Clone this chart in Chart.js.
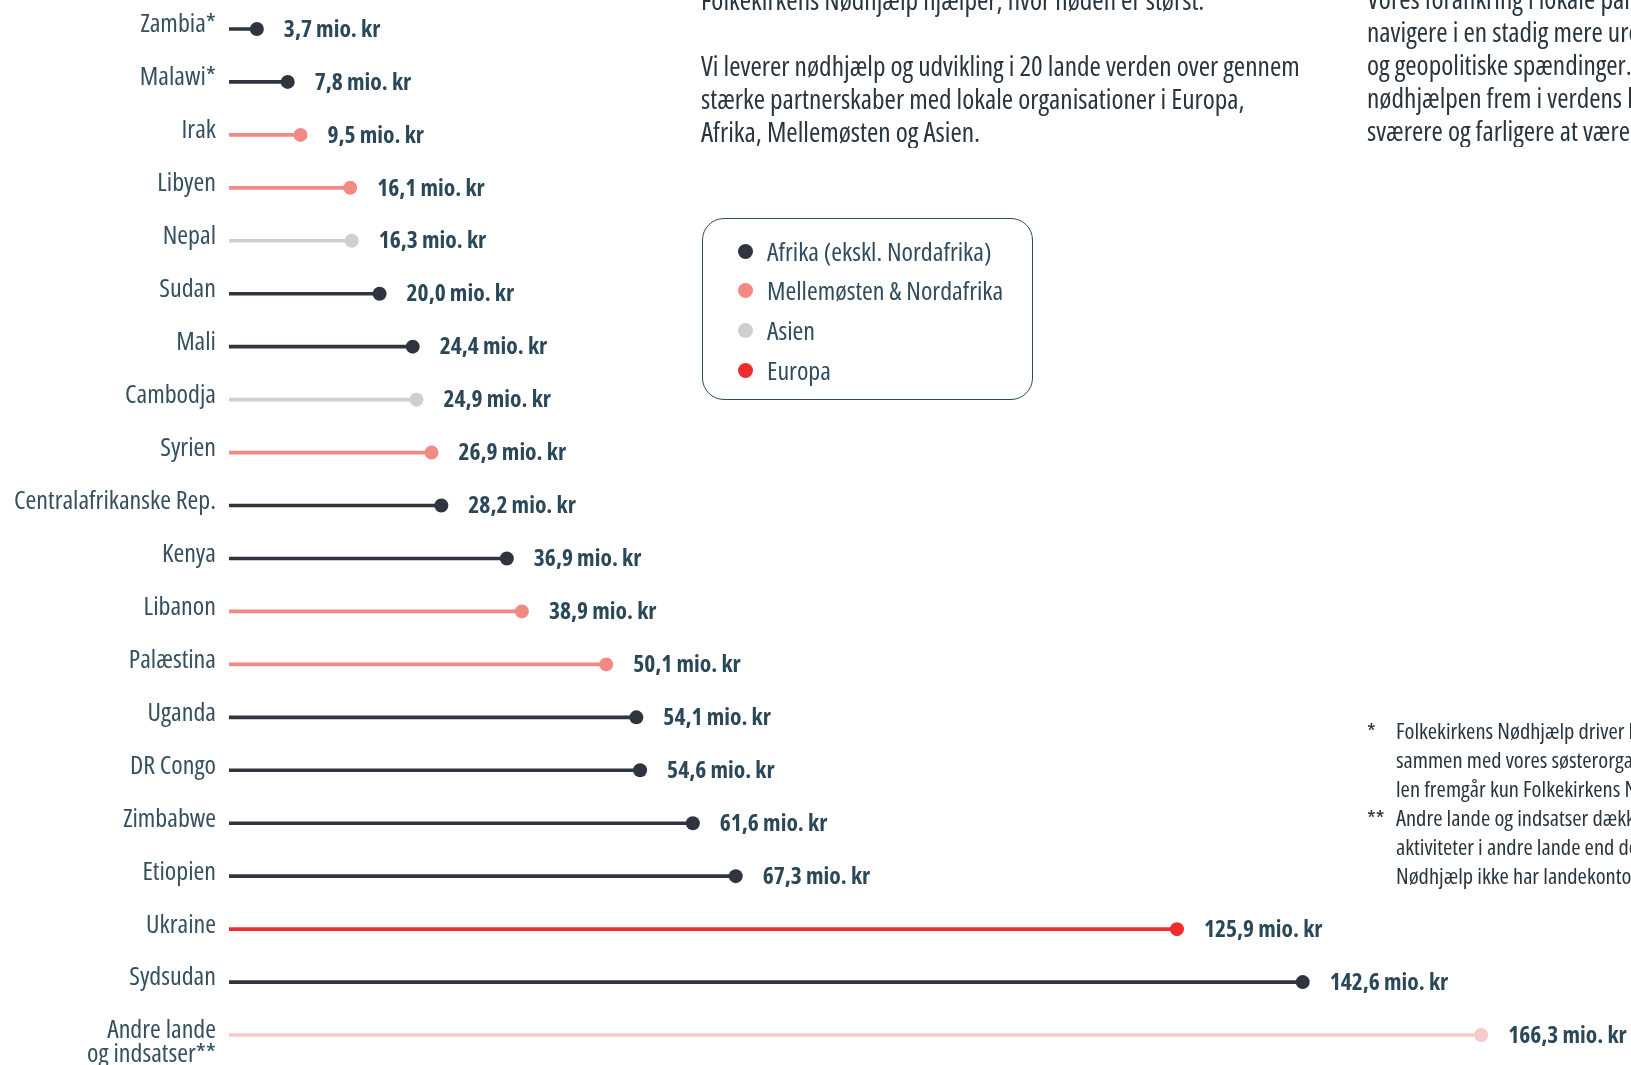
<!DOCTYPE html>
<html lang="da">
<head>
<meta charset="utf-8">
<script src="https://cdn.jsdelivr.net/npm/chart.js@4"></script>
<style>
  html, body { margin: 0; padding: 0; background: #fff; }
  body { width: 1631px; height: 1065px; overflow: hidden; position: relative;
         font-family: "Open Sans", sans-serif; font-stretch: 75%; }
  #wrap { position: absolute; left: 0; top: 0; width: 1631px; height: 1065px; }
  .txt { position: absolute; color: #28343e; font-size: 27.4px; line-height: 33px; white-space: nowrap; overflow: hidden; }
  #col1 { left: 701px; top: -17px; width: 640px; }
  #col2 { left: 1367px; top: -18px; width: 264px; }
  #legend { position: absolute; left: 702px; top: 218px; width: 331px; height: 182px; box-sizing: border-box;
            border: 1.5px solid #2f4b5c; border-radius: 22px; }
  #legend div { position: absolute; left: 64px; font-size: 26px; color: #2f4b5c; white-space: nowrap; line-height: 28px; }
  #legend span { position: absolute; left: -29px; top: 7px; width: 15px; height: 15px; border-radius: 50%; }
  #notes { position: absolute; left: 1367px; top: 716px; width: 264px; overflow: hidden; font-size: 22.5px;
           line-height: 29px; color: #28343e; white-space: nowrap; }
  #notes div { position: relative; padding-left: 29px; }
  #notes b { position: absolute; left: 0; font-weight: normal; }
</style>
</head>
<body>
<div id="wrap"><canvas id="chart"></canvas></div>

<div class="txt" id="col1">
  <div>Folkekirkens Nødhjælp hjælper, hvor nøden er størst.</div>
  <div>&nbsp;</div>
  <div>Vi leverer nødhjælp og udvikling i 20 lande verden over gennem</div>
  <div>stærke partnerskaber med lokale organisationer i Europa,</div>
  <div>Afrika, Mellemøsten og Asien.</div>
</div>
<div class="txt" id="col2">
  <div>Vores forankring i lokale partnerskaber gør det muligt at</div>
  <div>navigere i en stadig mere uroligt verden præget af konflikter</div>
  <div>og geopolitiske spændinger. Det bliver dog sværere at få</div>
  <div>nødhjælpen frem i verdens brændpunkter, hvor det bliver</div>
  <div>sværere og farligere at være nødhjælpsarbejder.</div>
</div>

<div id="legend">
  <div style="top:18px"><span style="background:#2f343f"></span>Afrika (ekskl. Nordafrika)</div>
  <div style="top:57px"><span style="background:#f28a84"></span>Mellemøsten &amp; Nordafrika</div>
  <div style="top:97px"><span style="background:#cfcfd1"></span>Asien</div>
  <div style="top:137px"><span style="background:#ee2b2d"></span>Europa</div>
</div>

<div id="notes">
  <div><b>*</b>Folkekirkens Nødhjælp driver landeprogrammet</div>
  <div>sammen med vores søsterorganisationer. I tal-</div>
  <div>len fremgår kun Folkekirkens Nødhjælps andel.</div>
  <div><b>**</b>Andre lande og indsatser dækker over</div>
  <div>aktiviteter i andre lande end dem, hvor Folkekirkens</div>
  <div>Nødhjælp ikke har landekontor.</div>
</div>

<script>
// categories, top to bottom (leading '' keeps the two-line label aligned like the others)
const countries = [
  'Zambia*', 'Malawi*', 'Irak', 'Libyen', 'Nepal', 'Sudan', 'Mali', 'Cambodja', 'Syrien',
  'Centralafrikanske Rep.', 'Kenya', 'Libanon', 'Palæstina', 'Uganda', 'DR Congo',
  'Zimbabwe', 'Etiopien', 'Ukraine', 'Sydsudan', ['', 'Andre lande', 'og indsatser**']
];
// mio. kr
const amounts = [3.7, 7.8, 9.5, 16.1, 16.3, 20.0, 24.4, 24.9, 26.9, 28.2, 36.9, 38.9,
                 50.1, 54.1, 54.6, 61.6, 67.3, 125.9, 142.6, 166.3];
const regions = ['af', 'af', 'me', 'me', 'as', 'af', 'af', 'as', 'me', 'af', 'af', 'me',
                 'me', 'af', 'af', 'af', 'af', 'eu', 'af', 'other'];

const regionColors = { af: '#2f343f', me: '#f28a84', as: '#cfcfd1', eu: '#ee2b2d', other: '#f8c9c7' };
const colors = regions.map(r => regionColors[r]);

const fmt = v => v.toFixed(1).replace('.', ',') + ' mio. kr';
const FONT = '"Open Sans", sans-serif';

// the canvas forgets fontStretch whenever font is set, so re-apply it each time
const canvas = document.getElementById('chart');
const ctx2d = canvas.getContext('2d');
const fontProp = Object.getOwnPropertyDescriptor(CanvasRenderingContext2D.prototype, 'font');
Object.defineProperty(ctx2d, 'font', {
  get() { return fontProp.get.call(this); },
  set(v) { fontProp.set.call(this, v); this.fontStretch = 'condensed'; }
});

// value labels next to the dots
const valueLabels = {
  id: 'valueLabels',
  afterDatasetsDraw(chart) {
    const ctx = chart.ctx;
    const meta = chart.getDatasetMeta(1);
    ctx.save();
    ctx.font = 'bold 23.5px ' + FONT;
    ctx.fillStyle = '#2b4859';
    ctx.textAlign = 'left';
    ctx.textBaseline = 'middle';
    meta.data.forEach((pt, i) => {
      ctx.fillText(fmt(amounts[i]), pt.x + 27, pt.y + 1);
    });
    ctx.restore();
  }
};

new Chart(canvas, {
  type: 'bar',
  data: {
    labels: countries,
    datasets: [{
      type: 'bar',
      data: amounts,
      backgroundColor: colors,
      barThickness: 3,
      indexAxis: 'y'
    }, {
      type: 'line',
      data: amounts,
      showLine: false,
      pointRadius: 7,
      pointHoverRadius: 7,
      pointBorderWidth: 0,
      pointBackgroundColor: colors,
      indexAxis: 'y'
    }]
  },
  options: {
    indexAxis: 'y',
    responsive: true,
    maintainAspectRatio: false,
    animation: false,
    layout: { autoPadding: false, padding: { left: 0, right: 0, top: 2.5, bottom: 3.5 } },
    plugins: { legend: { display: false }, tooltip: { enabled: false } },
    scales: {
      x: { type: 'linear', min: 0, max: 186.2, display: false },
      y: {
        type: 'category',
        grid: { display: false, drawTicks: false },
        border: { display: false },
        ticks: {
          autoSkip: false,
          padding: 13,
          labelOffset: -4,
          color: '#34505f',
          font: { family: FONT, size: 26, lineHeight: 0.92 }
        },
        afterFit(scale) {
          scale.width = 229;
          scale.paddingTop = 0;
          scale.paddingBottom = 0;
        }
      }
    }
  },
  plugins: [valueLabels]
});
</script>
</body>
</html>
